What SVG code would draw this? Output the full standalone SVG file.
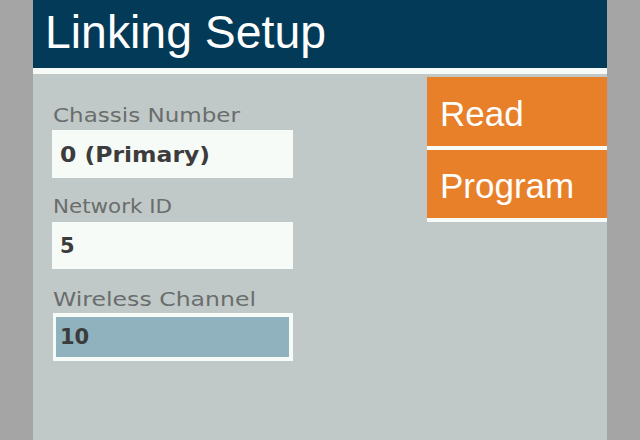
<svg xmlns="http://www.w3.org/2000/svg" width="640" height="440" viewBox="0 0 640 440">
<style>
.label{font-family:"DejaVu Sans","Liberation Sans",sans-serif;font-size:19px;fill:#6b6d6d;}
.value{font-family:"DejaVu Sans","Liberation Sans",sans-serif;font-size:21px;font-weight:bold;fill:#3c3c3c;}
.btn{fill:#e8802a;}
.btntext{font-family:"Liberation Sans",Arial,sans-serif;font-size:35px;fill:#ffffff;}
.field{fill:#f7fbf8;}
</style>
<rect x="0" y="0" width="640" height="440" fill="#a5a5a5"/>
<rect x="33" y="0" width="574" height="440" fill="#c0c9c7"/>
<g id="header">
<rect x="33" y="0" width="574" height="68" fill="#023a57"/>
<rect x="33" y="68" width="574" height="6" fill="#f7fbf8"/>
<text x="45" y="48" font-family="'Liberation Sans',Arial,sans-serif" font-size="46" fill="#ffffff" textLength="281" lengthAdjust="spacingAndGlyphs">Linking Setup</text>
</g>
<g id="chassis">
<text class="label" x="53" y="122" textLength="187" lengthAdjust="spacingAndGlyphs">Chassis Number</text>
<rect class="field" x="52" y="130" width="241" height="48"/>
<text class="value" x="60" y="162" textLength="150" lengthAdjust="spacingAndGlyphs">0 (Primary)</text>
</g>
<g id="network">
<text class="label" x="53" y="213" textLength="119" lengthAdjust="spacingAndGlyphs">Network ID</text>
<rect class="field" x="52" y="222" width="241" height="47"/>
<text class="value" x="60" y="253">5</text>
</g>
<g id="wireless">
<text class="label" x="53" y="306" textLength="203" lengthAdjust="spacingAndGlyphs">Wireless Channel</text>
<rect x="53" y="313" width="240" height="48" fill="#f7fbf8"/>
<rect x="56" y="317" width="233" height="40" fill="#8fb2be"/>
<text class="value" x="60" y="344">10</text>
</g>
<g id="read">
<rect class="btn" x="427" y="77" width="180" height="69"/>
<rect x="427" y="146" width="180" height="4" fill="#f7fbf8"/>
<text class="btntext" x="440" y="126">Read</text>
</g>
<g id="program">
<rect class="btn" x="427" y="150" width="180" height="68"/>
<rect x="427" y="218" width="180" height="4" fill="#f7fbf8"/>
<text class="btntext" x="440" y="198">Program</text>
</g>
<g id="connectors"/>
</svg>
